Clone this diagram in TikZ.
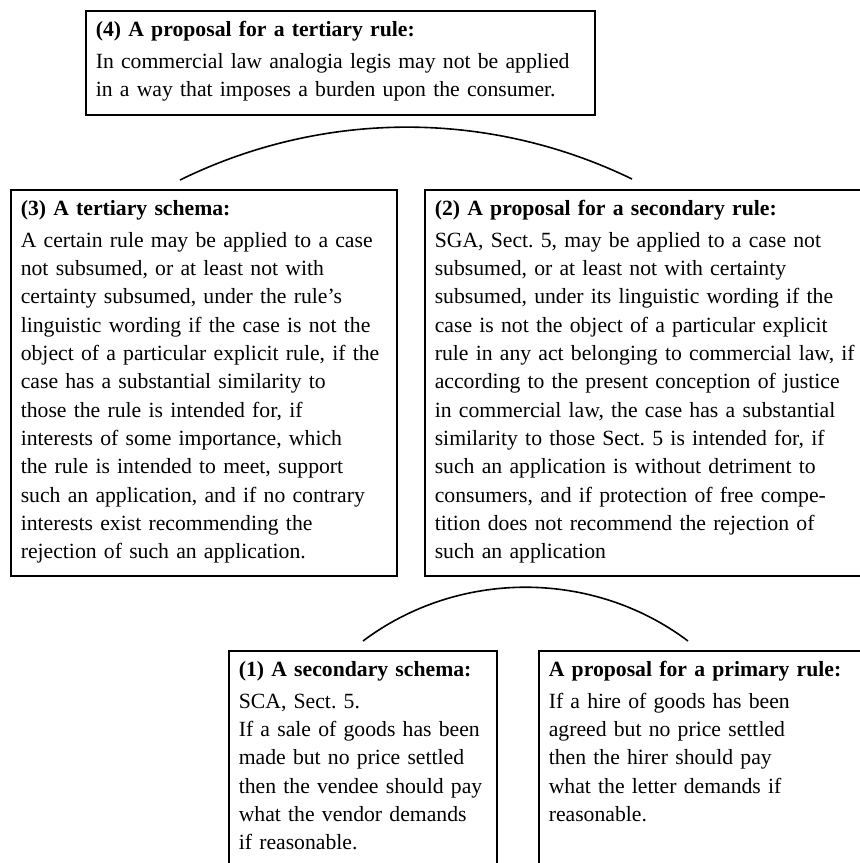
\documentclass[tikz,border=0pt]{standalone}
\usepackage{fontspec}
\setmainfont{Liberation Serif}
\frenchspacing
\begin{document}
\begin{tikzpicture}[x=0.5pt,y=-0.5pt]
\tikzset{
  rulebox/.style={draw, line width=0.8pt, anchor=north west, align=left,
    inner xsep=5pt, inner ysep=0pt, text height=13pt,
    font=\fontsize{10.85}{14.15}\selectfont\frenchspacing},
  arcline/.style={line width=0.8pt},
}
\path[use as bounding box, clip] (0,0) rectangle (860,863);

\node[rulebox, text width=244.5pt, text depth=39pt] (r4) at (85,10)
{\begin{tabular}[t]{@{}l@{}}\textbf{(4) A proposal for a tertiary rule:}\\[1.6pt]
In commercial law analogia legis may not be applied\\
in a way that imposes a burden upon the consumer.\end{tabular}};

\node[rulebox, text width=183pt, text depth=180pt] (r3) at (10,189)
{\begin{tabular}[t]{@{}l@{}}\textbf{(3) A tertiary schema:}\\[1.6pt]
A certain rule may be applied to a case\\
not subsumed, or at least not with\\
certainty subsumed, under the rule’s\\
linguistic wording if the case is not the\\
object of a particular explicit rule, if the\\
case has a substantial similarity to\\
those the rule is intended for, if\\
interests of some importance, which\\
the rule is intended to meet, support\\
such an application, and if no contrary\\
interests exist recommending the\\
rejection of such an application.\end{tabular}};

\node[rulebox, text width=218pt, text depth=180pt] (r2) at (424,189)
{\begin{tabular}[t]{@{}l@{}}\textbf{(2) A proposal for a secondary rule:}\\[1.6pt]
SGA, Sect. 5, may be applied to a case not\\
subsumed, or at least not with certainty\\
subsumed, under its linguistic wording if the\\
case is not the object of a particular explicit\\
rule in any act belonging to commercial law, if\\
according to the present conception of justice\\
in commercial law, the case has a substantial\\
similarity to those Sect. 5 is intended for, if\\
such an application is without detriment to\\
consumers, and if protection of free compe-\\
tition does not recommend the rejection of\\
such an application\end{tabular}};

\node[rulebox, text width=124pt, text depth=120pt] (r1) at (228,650)
{\begin{tabular}[t]{@{}l@{}}\textbf{(1) A secondary schema:}\\[1.6pt]
SCA, Sect. 5.\\
If a sale of goods has been\\
made but no price settled\\
then the vendee should pay\\
what the vendor demands\\
if reasonable.\end{tabular}};

\node[rulebox, text width=160pt, text depth=120pt] (r0) at (538,650)
{\begin{tabular}[t]{@{}l@{}}\textbf{A proposal for a primary rule:}\\[1.6pt]
If a hire of goods has been\\
agreed but no price settled\\
then the hirer should pay\\
what the letter demands if\\
reasonable.\end{tabular}};

\coordinate (u1) at (180,180);
\coordinate (u2) at (632,179);
\coordinate (l1) at (363,641);
\coordinate (l2) at (688,641);
\draw[arcline] (u1) to[bend left=26, looseness=0.9] (u2);
\draw[arcline] (l1) to[bend left=37, looseness=0.94] (l2);
\end{tikzpicture}
\end{document}
